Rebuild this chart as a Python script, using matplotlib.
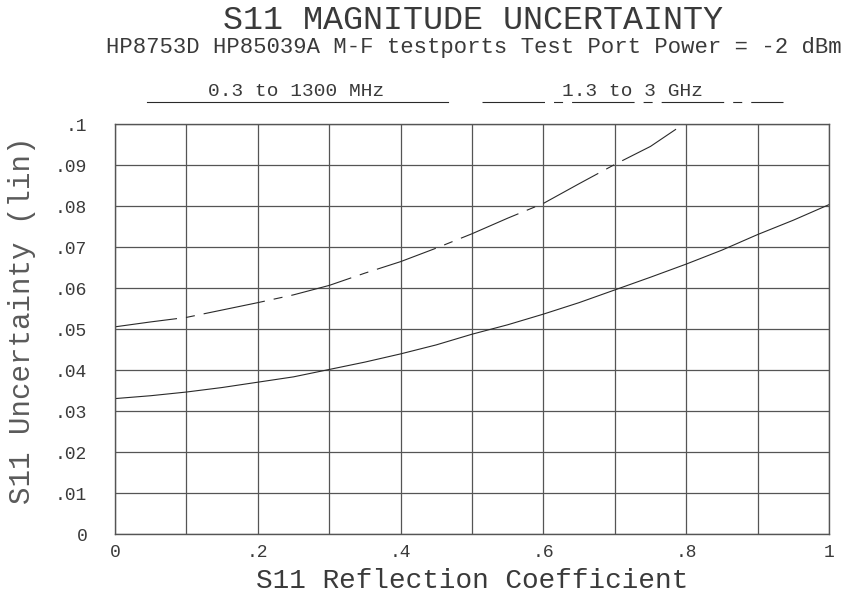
import matplotlib
matplotlib.use("Agg")
import matplotlib.pyplot as plt

# Reflection coefficient (x) and S11 uncertainty (linear) for both bands
rho = [0.0, 0.05, 0.1, 0.15, 0.2, 0.25, 0.3, 0.35, 0.4, 0.45, 0.5,
       0.55, 0.6, 0.65, 0.7, 0.75, 0.8, 0.85, 0.9, 0.95, 1.0]
unc_low = [0.0331, 0.0338, 0.0347, 0.0358, 0.0371, 0.0384, 0.0402, 0.0420,
           0.0440, 0.0462, 0.0488, 0.0511, 0.0537, 0.0565, 0.0596, 0.0627,
           0.0659, 0.0693, 0.0731, 0.0766, 0.0804]

rho_high = [0.0, 0.05, 0.1, 0.15, 0.2, 0.25, 0.3, 0.35, 0.4, 0.45, 0.5,
            0.55, 0.6, 0.65, 0.7, 0.75, 0.79]
unc_high = [0.0506, 0.0518, 0.0529, 0.0547, 0.0565, 0.0584, 0.0607, 0.0637,
            0.0665, 0.0698, 0.0733, 0.0771, 0.0807, 0.0855, 0.0902, 0.0946,
            0.0993]

band_low = "0.3 to 1300 MHz"
band_high = "1.3 to 3 GHz"

x_ticks = [0, 0.1, 0.2, 0.3, 0.4, 0.5, 0.6, 0.7, 0.8, 0.9, 1.0]
x_labels = ["0", "", ".2", "", ".4", "", ".6", "", ".8", "", "1"]
y_ticks = [0, 0.01, 0.02, 0.03, 0.04, 0.05, 0.06, 0.07, 0.08, 0.09, 0.1]
y_labels = ["0", ".01", ".02", ".03", ".04", ".05", ".06", ".07", ".08", ".09", ".1"]

plt.rcParams["font.family"] = ["Liberation Mono", "DejaVu Sans Mono"]
plt.rcParams["lines.scale_dashes"] = False

ink = "#3a3a3a"
grid_col = "#555555"
# plotter style long/short dash
dash = (0, (45, 6.5, 6.5, 6.5))

fig = plt.figure(figsize=(8.54, 5.96), dpi=100)
ax = fig.add_axes([0.1347, 0.1035, 0.836, 0.688])

ax.plot(rho, unc_low, color="#2a2a2a", lw=0.8)
ax.plot(rho_high, unc_high, color="#2a2a2a", lw=0.8, linestyle=dash)

ax.set_xlim(0, 1)
ax.set_ylim(0, 0.1)
ax.set_xticks(x_ticks)
ax.set_xticklabels(x_labels)
ax.set_yticks(y_ticks)
ax.set_yticklabels(y_labels)
ax.tick_params(length=0, colors=ink, labelsize=13)
ax.tick_params(axis="y", pad=20)
ax.tick_params(axis="x", pad=7)
ax.grid(True, color=grid_col, lw=0.9)
for s in ax.spines.values():
    s.set_color(grid_col)
    s.set_linewidth(1.0)

ax.set_xlabel("S11 Reflection Coefficient", fontsize=20, color=ink, labelpad=5)
fig.text(0.026, 0.463, "S11 Uncertainty (lin)", rotation=90, fontsize=21,
         color="#5a5a5a", ha="center", va="center")

# titles
fig.text(0.554, 0.966, "S11 MAGNITUDE UNCERTAINTY", fontsize=24, color=ink,
         ha="center", va="center")
fig.text(0.555, 0.921, "HP8753D HP85039A M-F testports Test Port Power = -2 dBm",
         fontsize=16, color=ink, ha="center", va="center")

# band key above the grid
fig.add_artist(plt.Line2D([147 / 854, 448 / 854], [1 - 102 / 596, 1 - 102 / 596],
                          color="#2a2a2a", lw=0.8))
fig.add_artist(plt.Line2D([482 / 854, 783 / 854], [1 - 102 / 596, 1 - 102 / 596],
                          color="#2a2a2a", lw=0.8, linestyle=dash))
fig.text(296 / 854, 1 - 91 / 596, band_low, fontsize=14, color=ink,
         ha="center", va="center")
fig.text(632 / 854, 1 - 91 / 596, band_high, fontsize=14, color=ink,
         ha="center", va="center")

fig.savefig("out.png", dpi=100)
